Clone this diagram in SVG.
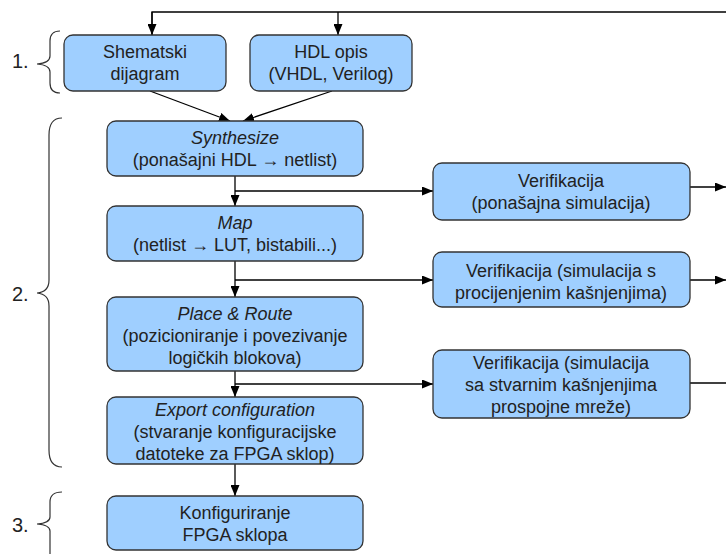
<svg xmlns="http://www.w3.org/2000/svg" width="726" height="554" viewBox="0 0 726 554">
<defs>
<marker id="ah" viewBox="0 0 11 9" refX="11" refY="4.5" markerWidth="11" markerHeight="9" markerUnits="userSpaceOnUse" orient="auto">
<path d="M0,0 L11,4.5 L0,9 Z" fill="#000"/>
</marker>
<style>
.box{fill:#9fcfff;stroke:#333;stroke-width:1.3}
.t{font-family:"Liberation Sans",Arial,sans-serif;font-size:18px;fill:#222;text-anchor:middle}
.i{font-style:italic}
.c{fill:none;stroke:#000;stroke-width:1.3}
.a{fill:none;stroke:#000;stroke-width:1.3;marker-end:url(#ah)}
.br{fill:none;stroke:#333;stroke-width:1.2}
.lbl{font-family:"Liberation Sans",Arial,sans-serif;font-size:20px;fill:#222}
</style>
</defs>
<rect width="726" height="554" fill="#fff"/>
<g id="labels">
<text class="lbl" x="12" y="68">1.</text>
<path class="br" d="M60,31 Q50,31 50,41 L50,56 Q50,63 37,64 Q50,65 50,72 L50,83 Q50,93 60,93"/>
<text class="lbl" x="12" y="301">2.</text>
<path class="br" d="M62,118 Q49,118 49,135 L49,280 Q49,292 37,293 Q49,294 49,306 L49,450 Q49,467 62,467"/>
<text class="lbl" x="12" y="532">3.</text>
<path class="br" d="M62,492 Q50,492 50,502 L50,517 Q50,523 37,524 Q50,525 50,531 L50,560"/>
</g>
<g id="connectors">
<path class="c" d="M152,35 L152,12 L726,12"/>
<path class="a" d="M152,12 L152,35"/>
<path class="a" d="M338,12 L338,35"/>
<path class="a" d="M150,91 L230,121"/>
<path class="a" d="M332,91 L243,121"/>
<path class="a" d="M235,176 L235,206"/>
<path class="a" d="M235,191 L433,191"/>
<path class="a" d="M235,261 L235,297"/>
<path class="a" d="M235,280 L433,280"/>
<path class="a" d="M235,371 L235,397"/>
<path class="a" d="M235,384 L433,384"/>
<path class="a" d="M235,464 L235,496"/>
<path class="a" d="M690,187 L726,187"/>
<path class="a" d="M690,280 L726,280"/>
<path class="c" d="M690,383 L726,383"/>
</g>
<g id="shematski">
<rect class="box" x="64" y="35" width="162" height="56" rx="9"/>
<text class="t" x="145" y="58">Shematski</text>
<text class="t" x="145" y="80">dijagram</text>
</g>
<g id="hdl">
<rect class="box" x="250" y="35" width="162" height="56" rx="9"/>
<text class="t" x="331" y="58">HDL opis</text>
<text class="t" x="331" y="80">(VHDL, Verilog)</text>
</g>
<g id="synthesize">
<rect class="box" x="107" y="121" width="256" height="55" rx="9"/>
<text class="t i" x="235" y="144">Synthesize</text>
<text class="t" x="235" y="166">(ponašajni HDL → netlist)</text>
</g>
<g id="map">
<rect class="box" x="107" y="206" width="256" height="55" rx="9"/>
<text class="t i" x="235" y="229">Map</text>
<text class="t" x="235" y="251">(netlist → LUT, bistabili...)</text>
</g>
<g id="place">
<rect class="box" x="107" y="297" width="256" height="74" rx="9"/>
<text class="t i" x="235" y="320">Place &amp; Route</text>
<text class="t" x="235" y="342">(pozicioniranje i povezivanje</text>
<text class="t" x="235" y="364">logičkih blokova)</text>
</g>
<g id="export">
<rect class="box" x="107" y="397" width="256" height="67" rx="9"/>
<text class="t i" x="235" y="416">Export configuration</text>
<text class="t" x="235" y="438">(stvaranje konfiguracijske</text>
<text class="t" x="235" y="460">datoteke za FPGA sklop)</text>
</g>
<g id="konfig">
<rect class="box" x="107" y="496" width="256" height="54" rx="9"/>
<text class="t" x="235" y="519">Konfiguriranje</text>
<text class="t" x="235" y="541">FPGA sklopa</text>
</g>
<g id="ver1">
<rect class="box" x="433" y="163" width="257" height="57" rx="9"/>
<text class="t" x="561" y="187">Verifikacija</text>
<text class="t" x="561" y="209">(ponašajna simulacija)</text>
</g>
<g id="ver2">
<rect class="box" x="433" y="252" width="257" height="55" rx="9"/>
<text class="t" x="561" y="277">Verifikacija (simulacija s</text>
<text class="t" x="561" y="299">procijenjenim kašnjenjima)</text>
</g>
<g id="ver3">
<rect class="box" x="433" y="350" width="257" height="68" rx="9"/>
<text class="t" x="561" y="369">Verifikacija (simulacija</text>
<text class="t" x="561" y="391">sa stvarnim kašnjenjima</text>
<text class="t" x="561" y="413">prospojne mreže)</text>
</g>
</svg>
